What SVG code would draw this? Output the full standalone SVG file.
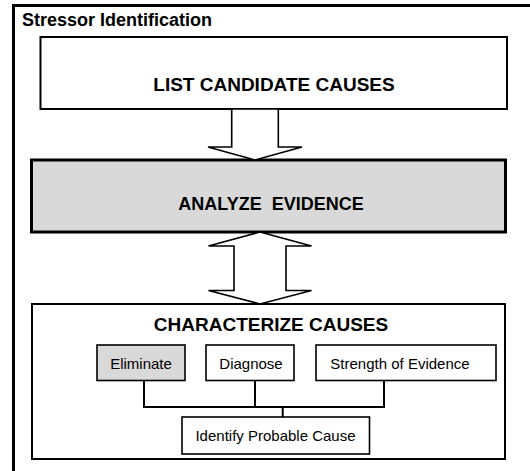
<svg xmlns="http://www.w3.org/2000/svg" width="530" height="471" viewBox="0 0 530 471">
<style>
  .box { fill: #ffffff; stroke: #000000; stroke-width: 2; }
  .small { fill: #ffffff; stroke: #000000; stroke-width: 1.6; }
  .gray { fill: #d9d9d9; }
  .arrow { fill: #ffffff; stroke: #000000; stroke-width: 1.6; stroke-linejoin: miter; }
  .conn { fill: none; stroke: #000000; stroke-width: 2; }
  .t { font-family: "Liberation Sans", Arial, sans-serif; fill: #000000; }
  .big { font-size: 19px; font-weight: bold; text-anchor: middle; }
  .lbl { font-size: 15px; text-anchor: middle; }
</style>
<rect width="530" height="471" fill="#ffffff"/>
<g id="frame">
  <path d="M13.5,480 V5.5 H540" fill="none" stroke="#000000" stroke-width="3"/>
  <text class="t" x="22" y="26" font-size="18" font-weight="bold">Stressor Identification</text>
</g>
<g id="list-candidate-causes">
  <rect class="box" x="40.5" y="37" width="466.5" height="72"/>
  <text class="t big" x="274" y="90.5">LIST CANDIDATE CAUSES</text>
</g>
<g id="analyze-evidence">
  <rect x="31.5" y="160" width="474" height="72" fill="#d9d9d9" stroke="#000000" stroke-width="3"/>
  <text class="t" x="271" y="209.5" font-size="18" font-weight="bold" text-anchor="middle" xml:space="preserve">ANALYZE  EVIDENCE</text>
</g>
<g id="characterize-causes">
  <rect class="box" x="32" y="304" width="473" height="155"/>
  <text class="t big" x="271" y="331">CHARACTERIZE CAUSES</text>
</g>
<g id="eliminate">
  <rect class="small gray" x="97" y="345" width="88" height="35.5"/>
  <text class="t lbl" x="141" y="369">Eliminate</text>
</g>
<g id="diagnose">
  <rect class="small" x="206" y="345" width="88" height="35.5"/>
  <text class="t lbl" x="251" y="369">Diagnose</text>
</g>
<g id="strength-of-evidence">
  <rect class="small" x="316" y="345" width="180" height="35.5"/>
  <text class="t lbl" x="400" y="369">Strength of Evidence</text>
</g>
<g id="identify-probable-cause">
  <rect class="small" x="182" y="417" width="187.5" height="37"/>
  <text class="t lbl" x="275.5" y="441">Identify Probable Cause</text>
</g>
<g id="connectors">
  <polygon class="arrow" points="231.7,109 231.7,147 208,147 255,160 302,147 278.3,147 278.3,109"/>
  <polygon class="arrow" points="260,232 311.5,246 286,246 286,290.5 311.5,290.5 260,304 208.5,290.5 234,290.5 234,246 208.5,246"/>
  <path class="conn" d="M144,380.5 V407 H384 V380.5 M255,380.5 V407 M282.7,407 V417"/>
</g>
</svg>
